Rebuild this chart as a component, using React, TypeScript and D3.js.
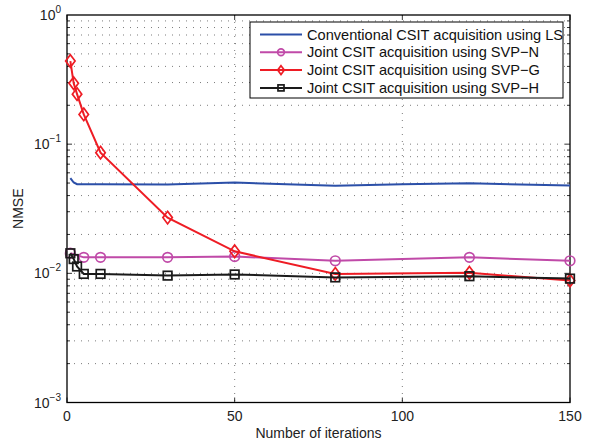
import React, { useEffect, useRef } from "react";
import * as d3 from "d3";

// iterations and NMSE values
const lsIter = [1, 2, 3, 5, 10, 30, 50, 80, 100, 120, 150];
const lsNmse = [0.0546, 0.0505, 0.049, 0.049, 0.049, 0.0488, 0.0505, 0.0476, 0.049, 0.0498, 0.0478];

const svpNIter = [1, 5, 10, 30, 50, 80, 120, 150];
const svpNNmse = [0.0143, 0.0133, 0.0133, 0.0133, 0.0135, 0.0125, 0.0133, 0.0125];

const svpGIter = [1, 2, 3, 5, 10, 30, 50, 80, 120, 150];
const svpGNmse = [0.44, 0.296, 0.244, 0.17, 0.086, 0.027, 0.0148, 0.0099, 0.0101, 0.0088];

const svpHIter = [1, 2, 3, 5, 10, 30, 50, 80, 120, 150];
const svpHNmse = [0.0143, 0.0129, 0.0113, 0.0099, 0.0099, 0.0096, 0.0098, 0.0093, 0.0095, 0.0091];

const legendLabels = [
  "Conventional CSIT acquisition using LS",
  "Joint CSIT acquisition using SVP\u2212N",
  "Joint CSIT acquisition using SVP\u2212G",
  "Joint CSIT acquisition using SVP\u2212H",
];
const xTicks = [0, 50, 100, 150];
const yDecades = [-3, -2, -1, 0];

const W = 596, H = 441;
const margin = { top: 15, right: 26, bottom: 38.5, left: 67 };

export default function App() {
  const ref = useRef<SVGSVGElement>(null);

  useEffect(() => {
    const svg = d3.select(ref.current);
    svg.selectAll("*").remove();
    const font = "'Liberation Sans', Arial, sans-serif";
    const fs = 14;
    const width = W - margin.left - margin.right;
    const height = H - margin.top - margin.bottom;

    const x = d3.scaleLinear().domain([0, 150]).range([0, width]);
    const y = d3.scaleLog().domain([1e-3, 1]).range([height, 0]);

    const g = svg.append("g").attr("transform", `translate(${margin.left},${margin.top})`);

    // grid
    const minorY: number[] = [];
    for (let e = -3; e < 0; e++) for (let m = 1; m < 10; m++) minorY.push(m * Math.pow(10, e));
    const grid = g.append("g").attr("stroke", "#444").attr("stroke-width", 0.7).attr("stroke-dasharray", "1,6");
    grid.selectAll(".gy").data(minorY.filter(v => v > 1e-3)).join("line")
      .attr("x1", 0).attr("x2", width).attr("y1", d => y(d)).attr("y2", d => y(d));
    grid.selectAll(".gx").data(xTicks.slice(1, -1)).join("line")
      .attr("y1", 0).attr("y2", height).attr("x1", d => x(d)).attr("x2", d => x(d));

    // ticks (inside, all four sides)
    const tk = g.append("g").attr("stroke", "#000").attr("stroke-width", 0.8);
    minorY.filter(v => v > 1e-3).forEach(v => {
      const len = yDecades.some(e => Math.abs(Math.pow(10, e) - v) < 1e-9) ? 5 : 3;
      tk.append("line").attr("x1", 0).attr("x2", len).attr("y1", y(v)).attr("y2", y(v));
      tk.append("line").attr("x1", width).attr("x2", width - len).attr("y1", y(v)).attr("y2", y(v));
    });
    xTicks.forEach(v => {
      tk.append("line").attr("x1", x(v)).attr("x2", x(v)).attr("y1", height).attr("y2", height - 5);
      tk.append("line").attr("x1", x(v)).attr("x2", x(v)).attr("y1", 0).attr("y2", 5);
    });

    // frame
    g.append("rect").attr("width", width).attr("height", height)
      .attr("fill", "none").attr("stroke", "#000").attr("stroke-width", 1.3);

    // tick labels
    g.selectAll(".xl").data(xTicks).join("text")
      .attr("x", d => x(d)).attr("y", height + 18).attr("text-anchor", "middle")
      .attr("font-family", font).attr("font-size", fs).attr("fill", "#222").text(d => d);
    yDecades.forEach(e => {
      const t = g.append("text").attr("x", -6).attr("y", y(Math.pow(10, e)) + 5)
        .attr("text-anchor", "end").attr("font-family", font).attr("font-size", fs).attr("fill", "#222");
      t.append("tspan").text("10");
      t.append("tspan").attr("dy", -7).attr("font-size", 10).text(e === 0 ? "0" : `\u2212${-e}`);
    });

    // axis labels
    g.append("text").attr("x", width / 2).attr("y", height + 35).attr("text-anchor", "middle")
      .attr("font-family", font).attr("font-size", fs).attr("fill", "#222").text("Number of iterations");
    g.append("text").attr("transform", `translate(${-44},${height / 2}) rotate(-90)`)
      .attr("text-anchor", "middle").attr("font-family", font).attr("font-size", fs).attr("fill", "#222").text("NMSE");

    const line = d3.line<[number, number]>().x(d => x(d[0])).y(d => y(d[1]));
    const series = [
      { it: lsIter, v: lsNmse, color: "#2b4fa8", marker: "none" },
      { it: svpNIter, v: svpNNmse, color: "#c04aa8", marker: "circle" },
      { it: svpGIter, v: svpGNmse, color: "#ee1c24", marker: "diamond" },
      { it: svpHIter, v: svpHNmse, color: "#1a1a1a", marker: "square" },
    ];

    const drawMarker = (sel: any, kind: string, cx: number, cy: number, color: string, s = 1) => {
      if (kind === "circle") {
        sel.append("circle").attr("cx", cx).attr("cy", cy).attr("r", 4.8 * s)
          .attr("fill", "none").attr("stroke", color).attr("stroke-width", 1.7);
      } else if (kind === "diamond") {
        const r = 6.3 * s;
        sel.append("path").attr("d", `M${cx},${cy - r}L${cx + r * 0.75},${cy}L${cx},${cy + r}L${cx - r * 0.75},${cy}Z`)
          .attr("fill", "none").attr("stroke", color).attr("stroke-width", 1.7);
      } else if (kind === "square") {
        const r = 4.3 * s;
        sel.append("rect").attr("x", cx - r).attr("y", cy - r).attr("width", 2 * r).attr("height", 2 * r)
          .attr("fill", "none").attr("stroke", color).attr("stroke-width", 1.7);
      }
    };

    const plot = g.append("g");
    series.forEach(s => {
      const pts = s.it.map((d, i) => [d, s.v[i]] as [number, number]);
      plot.append("path").attr("d", line(pts)).attr("fill", "none")
        .attr("stroke", s.color).attr("stroke-width", 2);
      pts.forEach(p => drawMarker(plot, s.marker, x(p[0]), y(p[1]), s.color));
    });

    // legend
    const lx = 250 - margin.left, ly = 22 - margin.top, lw = 313, lh = 76;
    const lg = g.append("g").attr("transform", `translate(${lx},${ly})`);
    lg.append("rect").attr("width", lw).attr("height", lh).attr("fill", "#fff")
      .attr("stroke", "#000").attr("stroke-width", 1);
    legendLabels.forEach((lab, i) => {
      const ry = 12.5 + i * 17.8;
      const s = series[i];
      lg.append("line").attr("x1", 10).attr("x2", 52).attr("y1", ry).attr("y2", ry)
        .attr("stroke", s.color).attr("stroke-width", 2);
      drawMarker(lg, s.marker, 31, ry, s.color, 0.7);
      lg.append("text").attr("x", 57).attr("y", ry + 5).attr("font-family", font)
        .attr("font-size", 14.6).attr("fill", "#111").text(lab);
    });
  }, []);

  return <svg ref={ref} width={W} height={H} style={{ display: "block", position: "absolute", left: 0, top: 0 }} />;
}
